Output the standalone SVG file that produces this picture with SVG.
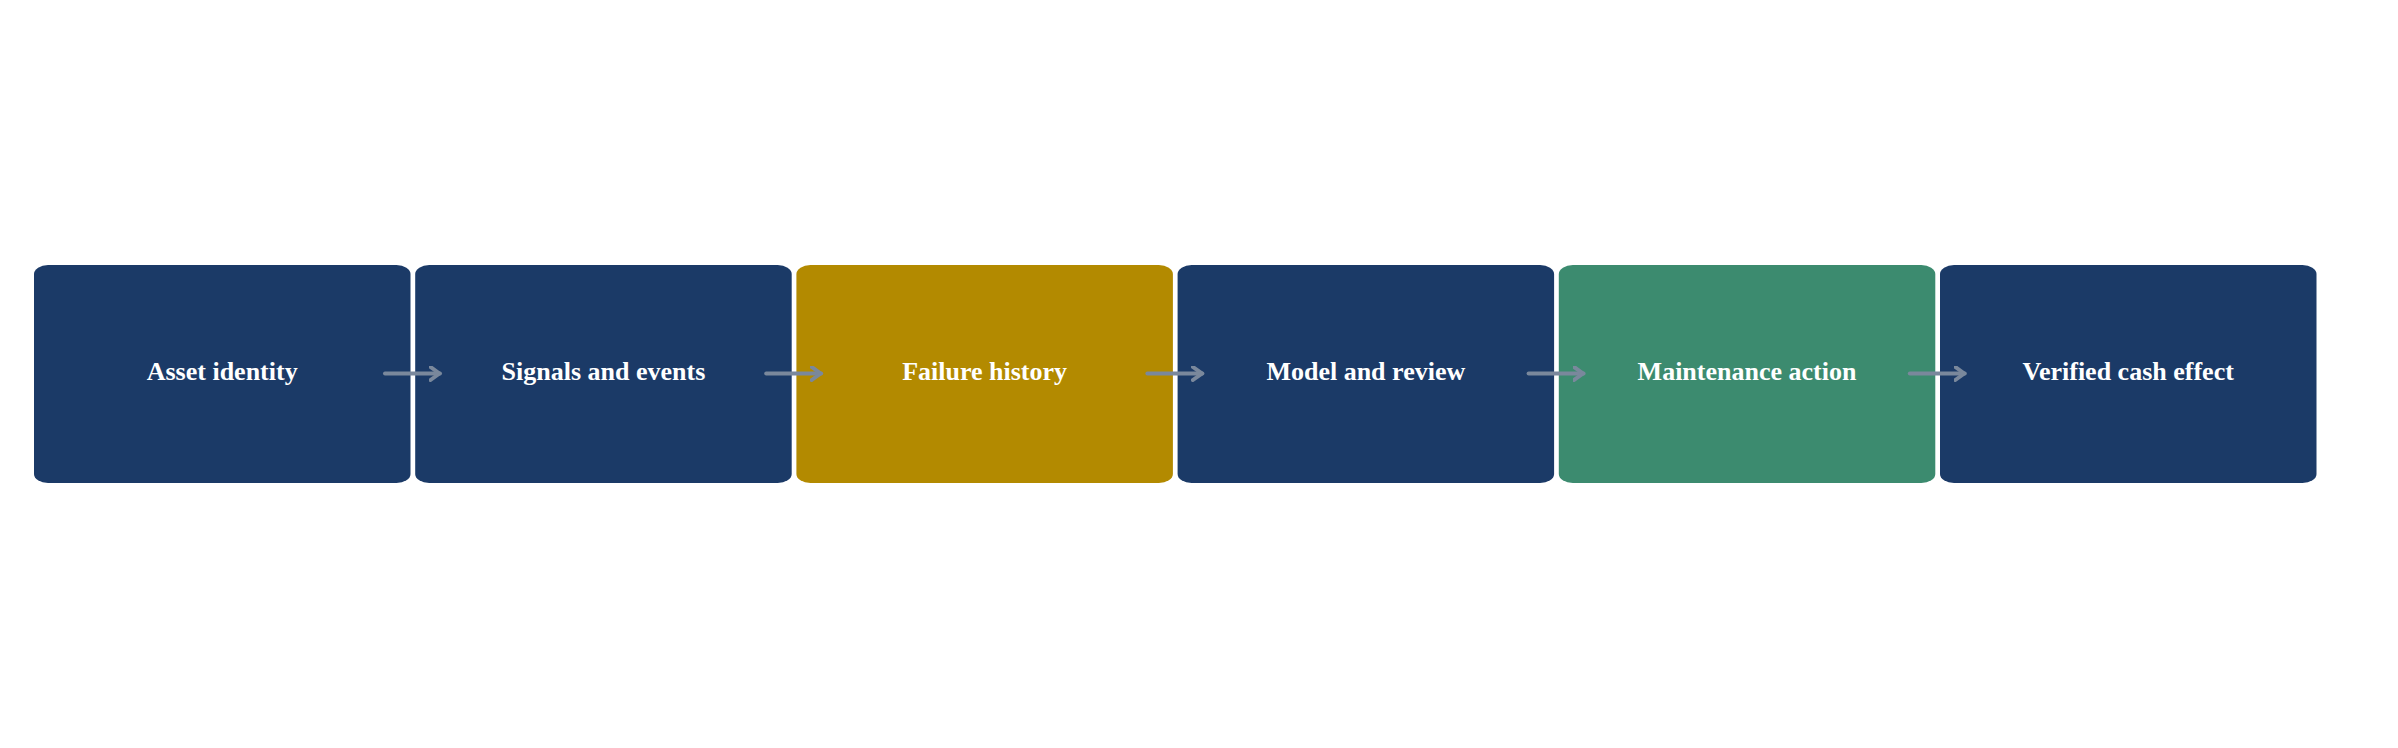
<svg xmlns="http://www.w3.org/2000/svg" width="2398" height="748" viewBox="0 0 2398 748">
  <defs>
    <style>
      .box { stroke: none; }
      .navy { fill: #1b3a67; }
      .gold { fill: #b38a00; }
      .green { fill: #3c8b6f; }
      .label { fill: #ffffff; font-family: "Liberation Serif", "Times New Roman", serif; font-weight: bold; font-size: 26px; text-anchor: middle; }
      .conn { stroke: #7a889c; stroke-width: 4; fill: none; stroke-linecap: round; stroke-linejoin: round; }
    </style>
    <marker id="arrow" viewBox="0 0 12 16" refX="11" refY="8" markerWidth="12" markerHeight="16" markerUnits="userSpaceOnUse" orient="auto">
      <path d="M 1.5 1.5 L 10.5 8 L 1.5 14.5" fill="none" stroke="#7a889c" stroke-width="4" stroke-linecap="round" stroke-linejoin="round"/>
    </marker>
  </defs>
  <rect width="2398" height="748" fill="#ffffff"/>
  <g id="node-asset-identity">
    <rect class="box navy" x="34" y="265" width="376.5" height="218" rx="14" ry="9"/>
    <text class="label" x="222.2" y="380">Asset identity</text>
  </g>
  <g id="node-signals-events">
    <rect class="box navy" x="415.2" y="265" width="376.5" height="218" rx="14" ry="9"/>
    <text class="label" x="603.4" y="380">Signals and events</text>
  </g>
  <g id="node-failure-history">
    <rect class="box gold" x="796.4" y="265" width="376.5" height="218" rx="14" ry="9"/>
    <text class="label" x="984.6" y="380">Failure history</text>
  </g>
  <g id="node-model-review">
    <rect class="box navy" x="1177.6" y="265" width="376.5" height="218" rx="14" ry="9"/>
    <text class="label" x="1365.8" y="380">Model and review</text>
  </g>
  <g id="node-maintenance-action">
    <rect class="box green" x="1558.8" y="265" width="376.5" height="218" rx="14" ry="9"/>
    <text class="label" x="1747" y="380">Maintenance action</text>
  </g>
  <g id="node-verified-cash">
    <rect class="box navy" x="1940" y="265" width="376.5" height="218" rx="14" ry="9"/>
    <text class="label" x="2128.2" y="380">Verified cash effect</text>
  </g>
  <g id="connectors">
    <line class="conn" x1="385" y1="373.5" x2="440" y2="373.5" marker-end="url(#arrow)"/>
    <line class="conn" x1="766.2" y1="373.5" x2="821.2" y2="373.5" marker-end="url(#arrow)"/>
    <line class="conn" x1="1147.4" y1="373.5" x2="1202.4" y2="373.5" marker-end="url(#arrow)"/>
    <line class="conn" x1="1528.6" y1="373.5" x2="1583.6" y2="373.5" marker-end="url(#arrow)"/>
    <line class="conn" x1="1909.8" y1="373.5" x2="1964.8" y2="373.5" marker-end="url(#arrow)"/>
  </g>
</svg>
